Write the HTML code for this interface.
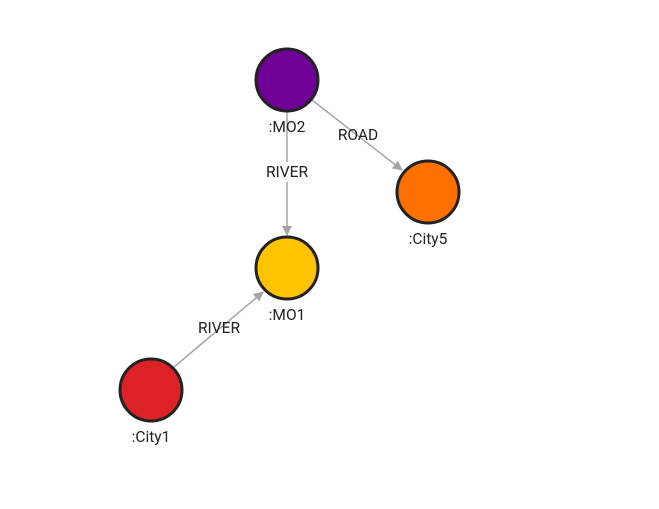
<!DOCTYPE html>
<html><head><style>body{margin:0;background:#fff}</style></head><body>
<svg width="659" height="504" xmlns="http://www.w3.org/2000/svg" font-family="Roboto, 'Liberation Sans', sans-serif" font-size="15.5">
<defs><marker id="a" markerWidth="10" markerHeight="10" refX="9" refY="5" orient="auto" markerUnits="userSpaceOnUse"><path d="M0,0 L10,5 L0,10 z" fill="#a5a5a5"/></marker></defs>
<g stroke="#a5a5a5" stroke-width="1.5" fill="none">
<line x1="287" y1="112" x2="287" y2="235" marker-end="url(#a)"/>
<line x1="312" y1="100" x2="402" y2="170" marker-end="url(#a)"/>
<line x1="174" y1="367" x2="263" y2="292" marker-end="url(#a)"/>
</g>
<g fill="#222" text-anchor="middle">
<rect x="262" y="162" width="50" height="20" fill="#fff"/>
<text x="287" y="177">RIVER</text>
<text x="358" y="140">ROAD</text>
<text x="219" y="333">RIVER</text>
</g>
<g stroke="#222" stroke-width="3">
<circle cx="287" cy="80" r="31" fill="#6f0096"/>
<circle cx="428" cy="192" r="31" fill="#ff7000"/>
<circle cx="287" cy="268" r="31" fill="#ffc300"/>
<circle cx="151" cy="390" r="31" fill="#dc2224"/>
</g>
<g fill="#222" text-anchor="middle">
<text x="287" y="132">:MO2</text>
<text x="428" y="244">:City5</text>
<text x="287" y="320">:MO1</text>
<text x="151" y="442">:City1</text>
</g>
</svg>
</body></html>
